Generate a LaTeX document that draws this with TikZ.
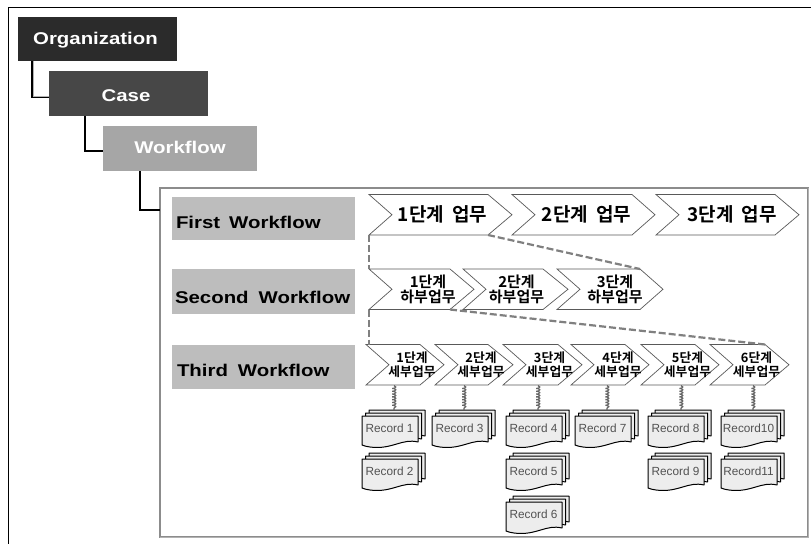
\documentclass[tikz,border=0pt]{standalone}
\usepackage{fontspec}
\setmainfont{Liberation Sans}
\newfontfamily\widefont[FakeStretch=1.2]{Liberation Sans}
\newfontfamily\krfont{Noto Sans CJK KR}[BoldFont={* Bold}]
\usetikzlibrary{decorations.pathmorphing,calc}
\definecolor{orgc}{HTML}{2B2B2B}
\definecolor{casec}{HTML}{474747}
\definecolor{wfc}{HTML}{A6A6A6}
\definecolor{lblc}{HTML}{BDBDBD}
\definecolor{panc}{HTML}{8C8C8C}
\definecolor{recc}{HTML}{EDEDED}
\tikzset{
 every node/.append style={outer sep=0pt},
 level/.style={minimum width=#1,minimum height=44pt,inner sep=0pt,anchor=north west},
 leveltxt/.style={text=white,inner sep=0pt,font=\fontsize{17}{18}\widefont\bfseries},
 lbl/.style={fill=lblc,minimum width=183pt,inner sep=0pt,anchor=north west},
 lbltxt/.style={inner sep=0pt,anchor=west,text=black,font=\fontsize{17}{18}\widefont\bfseries},
 elbow/.style={line width=1.4pt,black},
 elbowsh/.style={line width=1.2pt,gray!60},
 chevline/.style={draw=black!65,fill=white,line width=.7pt},
 dashc/.style={draw=black!50,line width=2.2pt,dash pattern=on 7pt off 3pt},
 coilc/.style={draw=black!60,line width=1.3pt,decorate,decoration={coil,aspect=.5,segment length=2.8pt,amplitude=1.7pt}},
 rectxt/.style={inner sep=0pt,font=\fontsize{11.8}{12}\selectfont,text=black!68},
}
% \chev{name}{left}{topright}{tip}{top}{bottom}{text centre x}{fontcmd}{text}
\newcommand{\chev}[9]{%
 \coordinate (#1-nw) at (#2,#5);
 \coordinate (#1-sw) at (#2,#6);
 \coordinate (#1-ne) at (#3,#5);
 \coordinate (#1-se) at (#3,#6);
 \draw[chevline] (#1-nw) -- (#1-ne) -- (#4,{(#5+#6)/2}) -- (#1-se) -- (#1-sw) -- ({#2+23},{(#5+#6)/2}) -- cycle;
 \node[inner sep=0pt,align=center,font=#8] (#1) at (#7,{(#5+#6)/2}) {#9};
}
\newcommand{\recpage}[3]{%
 \draw[draw=black,fill=recc,line width=1pt,line join=round] (#1,#2) -- ({#1+#3},#2) -- ({#1+#3},{#2+26}) .. controls ({#1+#3-16},{#2+22}) and ({#1+#3-26},{#2+34}) .. ({#1+8},{#2+31}) .. controls ({#1+5},{#2+30.5}) and ({#1+2},{#2+30}) .. (#1,{#2+29}) -- cycle;
}
\newcommand{\rec}[4]{%
 \recpage{#2+7}{#3-6}{56}
 \recpage{#2+3.5}{#3-3}{56}
 \recpage{#2}{#3}{56}
 \node[rectxt] (#1) at ({#2+27.5},{#3+12.5}) {#4};
}
\begin{document}
\begin{tikzpicture}[x=1pt,y=-1pt]
\useasboundingbox (0,0) rectangle (811,544);
\fill[white] (0,0) rectangle (811,544);
\draw[black,line width=.9pt] (8,7) -- (811,7);
\draw[black,line width=.9pt] (8,7) -- (8,544);
% panel
\node[draw=panc,line width=1.3pt,fill=white,minimum width=648pt,minimum height=349pt,inner sep=0pt,anchor=north west] (panel) at (160,188) {};
\draw[black!30,line width=1.6pt] (808.5,188) -- (808.5,537.5) -- (160,537.5);
% levels
\node[level=159pt,fill=orgc] (org) at (18,17) {};
\node[leveltxt] (orgt) at (95.5,40) {Organization};
\node[level=159pt,fill=casec,minimum height=45pt] (case) at (49,71) {};
\node[leveltxt] (caset) at (126,96) {Case};
\node[level=154pt,fill=wfc,minimum height=45pt] (wf) at (103,126) {};
\node[leveltxt] (wft) at (180,147) {Workflow};
% elbows
\coordinate (e1a) at (32,61); \coordinate (e1b) at (49,97.5);
\coordinate (e2a) at (85,116); \coordinate (e2b) at (103,151);
\coordinate (e3a) at (140,171); \coordinate (e3b) at (160,210);
\draw[elbowsh] ($(e1a)+(1.5,0)$) |- ($(e1b)+(0,-1.4)$);
\draw[elbow] (e1a) |- (e1b);
\draw[elbow] (e2a) |- (e2b);
\draw[elbow] (e3a) |- (e3b);
% row labels
\node[lbl,minimum height=43pt] (l1) at (171.5,197) {};
\node[lbl,minimum height=45pt] (l2) at (171.5,269) {};
\node[lbl,minimum height=44pt] (l3) at (171.5,345) {};
\node[lbltxt] (l1t) at (176,222) {First\hspace{9pt}Workflow};
\node[lbltxt] (l2t) at (175,297) {Second\hspace{10pt}Workflow};
\node[lbltxt] (l3t) at (177,370) {Third\hspace{10pt}Workflow};
% row 1
\def\fa{\fontsize{19}{20}\krfont\bfseries}
\chev{a1}{369}{488}{512}{194.5}{235}{442.5}{\fa}{1단계\hspace{8pt}업무}
\chev{a2}{512}{632}{655}{194.5}{235}{586.5}{\fa}{2단계\hspace{8pt}업무}
\chev{a3}{656}{775}{799}{194.5}{235}{732}{\fa}{3단계\hspace{8pt}업무}
% row 2
\def\fb{\fontsize{15}{15}\krfont\bfseries}
\chev{b1}{369}{450}{474}{269}{309.5}{428}{\fb}{1단계\\하부업무}
\chev{b2}{463}{543}{568}{269}{309.5}{516.5}{\fb}{2단계\\하부업무}
\chev{b3}{557}{640}{663}{269}{309.5}{615}{\fb}{3단계\\하부업무}
% row 3
\def\fc{\fontsize{12.8}{13.5}\krfont\bfseries}
\chev{c1}{366}{420}{444}{344.5}{385}{412}{\fc}{1단계\\세부업무}
\chev{c2}{435}{488}{513}{344.5}{385}{481}{\fc}{2단계\\세부업무}
\chev{c3}{503}{558}{582}{344.5}{385}{549.5}{\fc}{3단계\\세부업무}
\chev{c4}{571}{625}{649}{344.5}{385}{618}{\fc}{4단계\\세부업무}
\chev{c5}{641}{695}{719}{344.5}{385}{687.5}{\fc}{5단계\\세부업무}
\chev{c6}{710}{765}{789}{344.5}{385}{756.5}{\fc}{6단계\\세부업무}
% dashed
\draw[dashc] (a1-sw) -- (b1-nw);
\draw[dashc] (a1-se) -- (b3-ne);
\draw[dashc] (b1-sw) -- (c1-nw -| b1-sw);
\draw[dashc] (b1-se) -- (c6-ne);
% records
\rec{r1}{362}{416}{Record 1}
\rec{r2}{362}{459}{Record 2}
\rec{r3}{432}{416}{Record 3}
\rec{r4}{506}{416}{Record 4}
\rec{r5}{506}{459}{Record 5}
\rec{r6}{506}{502}{Record 6}
\rec{r7}{575}{416}{Record 7}
\rec{r8}{648}{416}{Record 8}
\rec{r9}{648}{459}{Record 9}
\rec{r10}{721}{416}{Record10}
\rec{r11}{721}{459}{Record11}
% coils
\foreach \x in {394,464,538,607,681,753}{
 \draw[coilc] (\x,385.5) -- (\x,410);
}
\end{tikzpicture}
\end{document}
